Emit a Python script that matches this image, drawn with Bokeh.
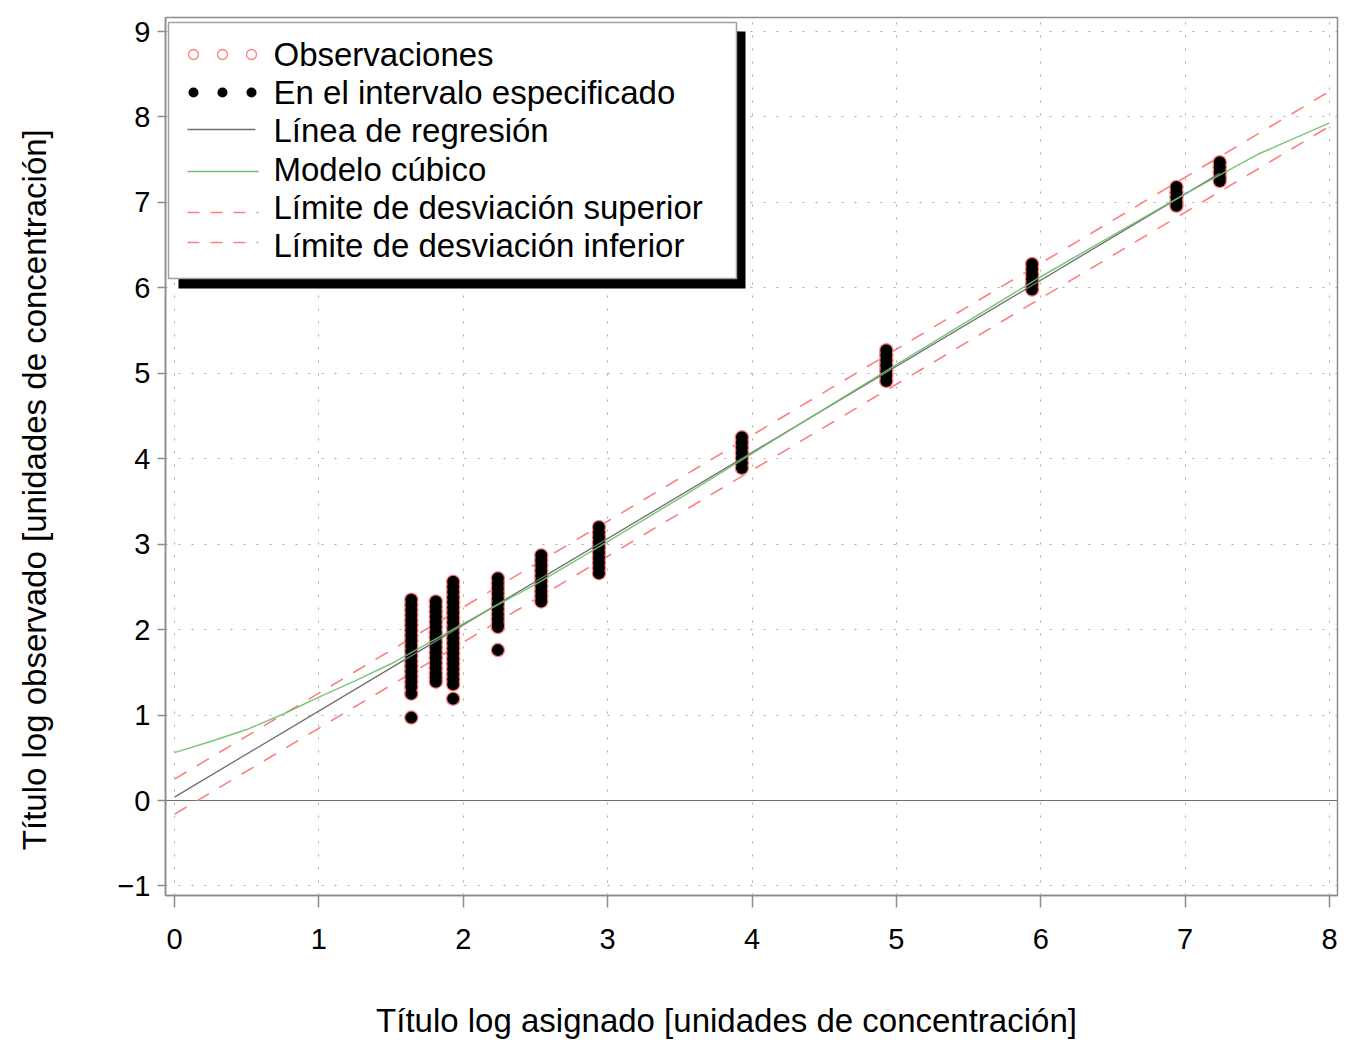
import math
from bokeh.plotting import figure
from bokeh.layouts import row, column
from bokeh.models import Range1d, SingleIntervalTicker
from bokeh.core.properties import value
from bokeh.embed import file_html
from bokeh.resources import INLINE

# ---------------- data ----------------
col_x = [1.64, 1.81, 1.93, 2.24, 2.54, 2.94, 3.93, 4.93, 5.94, 6.94, 7.24]
col_y = [
    [2.35, 2.29, 2.23, 2.17, 2.11, 2.05, 1.99, 1.93, 1.87, 1.81, 1.75, 1.69, 1.63, 1.57, 1.51, 1.45, 1.39, 1.33, 1.25, 0.97],
    [2.33, 2.27, 2.21, 2.15, 2.09, 2.03, 1.97, 1.91, 1.85, 1.79, 1.73, 1.67, 1.61, 1.55, 1.49, 1.44, 1.39],
    [2.56, 2.50, 2.44, 2.38, 2.32, 2.26, 2.20, 2.14, 2.08, 2.02, 1.96, 1.90, 1.84, 1.78, 1.72, 1.66, 1.60, 1.54, 1.48, 1.42, 1.36, 1.19],
    [2.60, 2.54, 2.48, 2.42, 2.36, 2.30, 2.24, 2.18, 2.12, 2.06, 2.03, 1.76],
    [2.87, 2.81, 2.75, 2.69, 2.63, 2.57, 2.51, 2.45, 2.39, 2.33],
    [3.20, 3.14, 3.08, 3.02, 2.96, 2.90, 2.84, 2.78, 2.72, 2.66],
    [4.25, 4.19, 4.13, 4.07, 4.01, 3.95, 3.89],
    [5.27, 5.21, 5.15, 5.09, 5.03, 4.97, 4.91],
    [6.28, 6.22, 6.16, 6.10, 6.04, 5.98],
    [7.18, 7.12, 7.06, 7.00, 6.96],
    [7.47, 7.41, 7.35, 7.29, 7.25],
]

reg_x = [0.0, 7.24]
reg_y = [0.04, 7.34]

cubic_x = [0.0, 0.25, 0.5, 0.75, 1.0, 1.25, 1.5, 2.0, 2.5, 3.0, 3.5, 4.0, 5.0, 6.0, 7.0, 7.5, 8.0]
cubic_y = [0.56, 0.69, 0.83, 1.01, 1.21, 1.40, 1.60, 2.07, 2.53, 3.03, 3.54, 4.06, 5.10, 6.13, 7.10, 7.56, 7.93]

upper_x = [0.0, 8.0]
upper_y = [0.25, 8.30]
lower_x = [0.0, 8.0]
lower_y = [-0.16, 7.89]

legend_labels = [
    "Observaciones",
    "En el intervalo especificado",
    "Línea de regresión",
    "Modelo cúbico",
    "Límite de desviación superior",
    "Límite de desviación inferior",
]

x_title = "Título log asignado [unidades de concentración]"
y_title = "Título log observado [unidades de concentración]"

# ---------------- styles ----------------
FONT = "Liberation Sans"
RED = "#ff7f7f"
GREEN = "#6fbf6f"
GRAY = "#6e6e6e"
FRAME = "#8c8c8c"

obs_x = [x for x, ys in zip(col_x, col_y) for _ in ys]
obs_y = [y for ys in col_y for y in ys]

# page geometry (px)
LEFT_W = 60           # width of the strip holding the y title
MAIN_H = 965          # height of the main figure
TOTAL_W = 1350
TOTAL_H = 1045
FL, FR, FT, FB = 165, 1337, 17, 895
X0PX, X8PX = 174, 1329
Y0PX, Y9PX = 800, 31
xs = (X8PX - X0PX) / 8.0
ys_ = (Y0PX - Y9PX) / 9.0
x_start = (FL - X0PX) / xs
x_end = 8 + (FR - X8PX) / xs
y_end = 9 + (Y9PX - FT) / ys_
y_start = -(FB - Y0PX) / ys_


def px2x(px):
    return (px - X0PX) / xs


def px2y(py):
    return (Y0PX - py) / ys_


p = figure(
    frame_width=FR - FL, frame_height=FB - FT,
    min_border_left=FL - LEFT_W, min_border_top=FT,
    min_border_right=TOTAL_W - FR, min_border_bottom=MAIN_H - FB,
    x_range=Range1d(x_start, x_end), y_range=Range1d(y_start, y_end),
    output_backend="svg", toolbar_location=None,
    background_fill_color="white", border_fill_color="white",
)
p.outline_line_color = FRAME
p.outline_line_width = 1.5

for ax in (p.xaxis, p.yaxis):
    ax.axis_line_color = FRAME
    ax.axis_line_width = 1.5
    ax.major_tick_line_color = FRAME
    ax.major_tick_line_width = 1.5
    ax.major_tick_in = 0
    ax.minor_tick_line_color = None
    ax.major_label_text_font = FONT
    ax.major_label_text_font_size = "29px"
    ax.major_label_text_color = "black"

p.xaxis.ticker = SingleIntervalTicker(interval=1)
p.yaxis.ticker = SingleIntervalTicker(interval=1)
p.xaxis.major_tick_out = 12
p.yaxis.major_tick_out = 8
p.xaxis.major_label_standoff = 21
p.yaxis.major_label_standoff = 7
p.yaxis.major_label_overrides = {-1: "\u22121"}

for g in (p.xgrid, p.ygrid):
    g.grid_line_color = "#a8a8a8"
    g.grid_line_dash = "2 11"
    g.grid_line_width = 1
p.xgrid.ticker = SingleIntervalTicker(interval=1)
p.ygrid.ticker = SingleIntervalTicker(interval=1)

# zero reference line
p.line(x=[x_start, x_end], y=[0, 0], line_color=GRAY, line_width=1.2)

# limits
p.line(x=upper_x, y=upper_y, line_color=RED, line_width=1.6, line_dash="14 12")
p.line(x=lower_x, y=lower_y, line_color=RED, line_width=1.6, line_dash="14 12")

# observations
p.scatter(x=obs_x, y=obs_y, size=13, marker="circle", fill_color=None,
          line_color=RED, line_width=1.5)
p.scatter(x=obs_x, y=obs_y, size=12, marker="circle", fill_color="black",
          line_color=None)

# regression & cubic
p.line(x=reg_x, y=reg_y, line_color=GRAY, line_width=1.3)
p.line(x=cubic_x, y=cubic_y, line_color=GREEN, line_width=1.5, line_alpha=0.9)

# ---------------- legend (manual, with shadow) ----------------
p.quad(left=[px2x(178)], right=[px2x(745)], top=[px2y(31)], bottom=[px2y(288)],
       fill_color="black", line_color=None)
p.quad(left=[px2x(168)], right=[px2x(736)], top=[px2y(22)], bottom=[px2y(278)],
       fill_color="white", line_color="#a0a0a0", line_width=1.5)

row_py = [54, 92, 130, 169, 207, 245]
sym_px = [193, 222, 251]
p.scatter(x=[px2x(v) for v in sym_px], y=[px2y(row_py[0])] * 3, size=10,
          marker="circle", fill_color=None, line_color=RED, line_width=1.3)
p.scatter(x=[px2x(v) for v in sym_px], y=[px2y(row_py[1])] * 3, size=10,
          marker="circle", fill_color="black", line_color=None)
p.line(x=[px2x(187), px2x(255)], y=[px2y(129)] * 2, line_color=GRAY, line_width=1.3)
p.line(x=[px2x(187), px2x(258)], y=[px2y(171)] * 2, line_color=GREEN, line_width=1.5)
p.line(x=[px2x(187), px2x(258)], y=[px2y(212)] * 2, line_color=RED, line_width=1.6,
       line_dash="12 11")
p.line(x=[px2x(187), px2x(258)], y=[px2y(242)] * 2, line_color=RED, line_width=1.6,
       line_dash="12 11")
p.text(x=[px2x(273)] * 6, y=[px2y(v) for v in row_py], text=legend_labels,
       text_font=value(FONT), text_font_size="33px", text_baseline="middle",
       text_align="left", text_color="black")


# ---------------- axis titles in their own strips ----------------
def strip(w, h):
    f = figure(width=w, height=h, min_border=0,
               x_range=Range1d(0, w), y_range=Range1d(h, 0),
               x_axis_location=None, y_axis_location=None,
               output_backend="svg", toolbar_location=None,
               background_fill_color="white", border_fill_color="white")
    f.outline_line_color = None
    f.grid.visible = False
    return f


lfig = strip(LEFT_W, MAIN_H)
lfig.text(x=[34], y=[519], text=[y_title], angle=math.pi / 2,
          text_font=value(FONT), text_font_size="33px", text_align="center",
          text_baseline="middle", text_color="black")

bfig = strip(TOTAL_W, TOTAL_H - MAIN_H)
bfig.text(x=[726], y=[1020 - MAIN_H], text=[x_title],
          text_font=value(FONT), text_font_size="33px", text_align="center",
          text_baseline="middle", text_color="black")

layout = column(row(lfig, p, spacing=0), bfig, spacing=0)

open("out.html", "w").write(file_html(layout, INLINE))
